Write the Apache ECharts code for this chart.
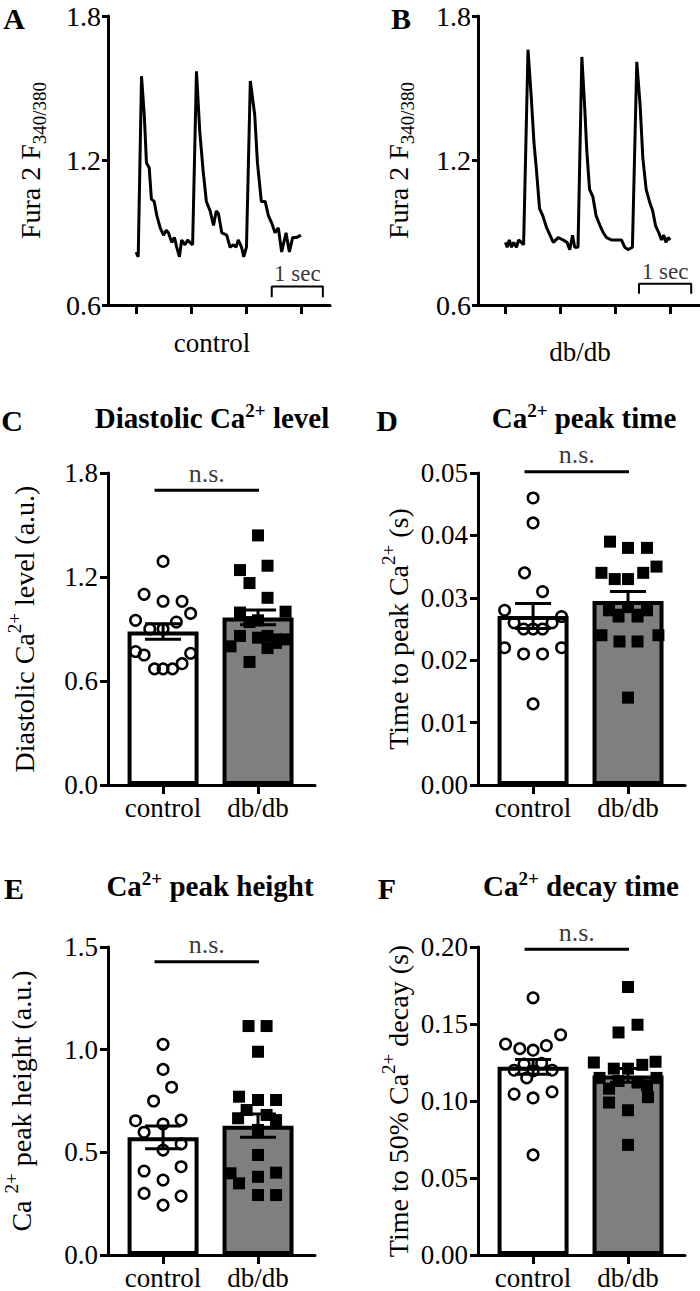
<!DOCTYPE html>
<html>
<head>
<meta charset="utf-8">
<script src="https://cdn.jsdelivr.net/npm/echarts@6/dist/echarts.min.js"></script>
<style>
  html, body { margin: 0; padding: 0; background: #fff; }
  #chart { width: 700px; height: 1291px; }
</style>
</head>
<body>
<div id="chart"></div>
<script>
// ---- data ----
var categories = ['control', 'db/db'];
var traceTicks = [0, 1, 2, 3];

// [time (s), Fura-2 ratio]
var traceControl = [
  [0.00, 0.82], [0.04, 0.80], [0.10, 1.55], [0.15, 1.39], [0.19, 1.19], [0.24, 1.17],
  [0.28, 1.04], [0.33, 1.03], [0.38, 0.97], [0.44, 0.92], [0.50, 0.89], [0.55, 0.91],
  [0.59, 0.90], [0.65, 0.86], [0.70, 0.88], [0.74, 0.84], [0.79, 0.80], [0.83, 0.87],
  [0.89, 0.85], [0.94, 0.87], [0.98, 0.86], [1.03, 0.85], [1.10, 1.57], [1.16, 1.32],
  [1.22, 1.16], [1.28, 1.03], [1.35, 0.99], [1.41, 0.93], [1.46, 0.99], [1.50, 0.98],
  [1.56, 0.90], [1.65, 0.89], [1.71, 0.84], [1.77, 0.85], [1.82, 0.84], [1.86, 0.87],
  [1.92, 0.84], [1.96, 0.80], [2.01, 0.84], [2.08, 1.53], [2.16, 1.39], [2.21, 1.19],
  [2.28, 1.03], [2.35, 1.03], [2.41, 0.97], [2.47, 0.94], [2.53, 0.90], [2.59, 0.92],
  [2.65, 0.82], [2.73, 0.90], [2.79, 0.82], [2.85, 0.88], [2.92, 0.88], [3.00, 0.89]
];
var traceDbdb = [
  [0.00, 0.86], [0.03, 0.84], [0.07, 0.87], [0.11, 0.84], [0.15, 0.86], [0.20, 0.84],
  [0.24, 0.87], [0.29, 0.86], [0.33, 0.85], [0.41, 1.66], [0.47, 1.46], [0.52, 1.27],
  [0.56, 1.17], [0.62, 1.00], [0.68, 0.97], [0.75, 0.92], [0.81, 0.89], [0.87, 0.86],
  [0.96, 0.88], [1.05, 0.87], [1.12, 0.86], [1.17, 0.83], [1.22, 0.89], [1.26, 0.84],
  [1.32, 0.84], [1.39, 1.63], [1.44, 1.43], [1.48, 1.24], [1.53, 1.08], [1.59, 1.05],
  [1.65, 0.97], [1.72, 0.93], [1.78, 0.90], [1.84, 0.88], [1.93, 0.87], [2.02, 0.87],
  [2.11, 0.87], [2.17, 0.84], [2.23, 0.83], [2.31, 0.84], [2.39, 1.61], [2.45, 1.43],
  [2.50, 1.21], [2.56, 1.08], [2.62, 1.03], [2.68, 0.99], [2.73, 0.93], [2.79, 0.90],
  [2.84, 0.87], [2.88, 0.89], [2.92, 0.86], [2.96, 0.88], [3.00, 0.87]
];
// 1 sec scale bars [time, ratio]
var scaleBarA = [[2.47, 0.632], [2.47, 0.677], [3.40, 0.677], [3.40, 0.632]];
var scaleBarB = [[2.43, 0.647], [2.43, 0.688], [3.38, 0.688], [3.38, 0.647]];

// individual cells: [horizontal jitter within the bar, value]
var diastolicCtrl = [[0, 1.29], [-0.20, 1.10], [0, 1.06], [0.20, 1.06], [0.29, 0.99], [-0.29, 0.95],
  [-0.14, 0.90], [0.14, 0.94], [0, 0.90], [-0.29, 0.77], [-0.20, 0.75], [0.29, 0.76],
  [0.20, 0.70], [-0.09, 0.67], [0, 0.67], [0.10, 0.67]];
var diastolicDb = [[0, 1.44], [-0.19, 1.24], [0.10, 1.265], [-0.09, 1.165], [0.10, 1.08], [-0.19, 0.995],
  [0.29, 1.00], [0, 0.95], [-0.09, 0.94], [-0.19, 0.86], [0, 0.85], [0.10, 0.86], [0.19, 0.84],
  [0.29, 0.84], [-0.29, 0.80], [0.10, 0.79], [-0.09, 0.71], [0.19, 0.82]];
var peakTimeCtrl = [[0, 0.046], [0, 0.042], [-0.09, 0.034], [0.10, 0.031], [-0.30, 0.028], [0.30, 0.027],
  [-0.20, 0.026], [-0.10, 0.025], [0, 0.025], [0.10, 0.025], [0.20, 0.026], [-0.30, 0.022],
  [0.30, 0.022], [-0.10, 0.021], [0.10, 0.021], [0, 0.013]];
var peakTimeDb = [[-0.19, 0.039], [0, 0.038], [0.20, 0.038], [0.30, 0.035], [-0.28, 0.034], [-0.14, 0.033],
  [0, 0.033], [0.16, 0.034], [-0.20, 0.028], [0, 0.0285], [0.20, 0.028], [-0.10, 0.027], [0.10, 0.027],
  [-0.28, 0.024], [-0.09, 0.023], [0.10, 0.023], [0.32, 0.024], [0, 0.014]];
var peakHeightCtrl = [[0, 1.026], [0, 0.904], [0.09, 0.817], [-0.10, 0.75], [-0.29, 0.654], [0, 0.638],
  [0.19, 0.657], [-0.20, 0.598], [0.19, 0.541], [0, 0.511], [-0.20, 0.409], [0.19, 0.43],
  [0, 0.365], [-0.20, 0.30], [0.19, 0.287], [0, 0.243]];
var peakHeightDb = [[-0.10, 1.115], [0.09, 1.115], [0, 0.99], [-0.20, 0.771], [0, 0.755], [0.19, 0.755],
  [-0.12, 0.706], [0.09, 0.682], [-0.21, 0.666], [0.19, 0.657], [0, 0.609], [0, 0.487],
  [-0.29, 0.398], [-0.20, 0.349], [0, 0.381], [0.19, 0.401], [0, 0.292], [0.19, 0.292]];
var decayCtrl = [[0, 0.167], [-0.29, 0.137], [-0.14, 0.134], [0, 0.133], [0.14, 0.136], [0.29, 0.143],
  [-0.095, 0.124], [0.09, 0.1245], [-0.20, 0.120], [0, 0.1195], [0.20, 0.120], [-0.067, 0.115],
  [-0.20, 0.1045], [0, 0.102], [0.20, 0.106], [0, 0.065]];
var decayDb = [[0, 0.174], [0.10, 0.1495], [-0.10, 0.1445], [-0.36, 0.125], [0.29, 0.1255], [-0.15, 0.121],
  [0, 0.121], [0.15, 0.1235], [-0.30, 0.115], [-0.10, 0.113], [0.10, 0.112], [0.30, 0.115],
  [0.20, 0.110], [-0.20, 0.108], [0.21, 0.1025], [-0.20, 0.099], [0, 0.094], [0, 0.0715]];

// bar means and SEM: [control, db/db]
var diastolicMean = [0.886, 0.967], diastolicSem = [0.045, 0.043];
var peakTimeMean = [0.0271, 0.0295], peakTimeSem = [0.0020, 0.0015];
var peakHeightMean = [0.573, 0.630], peakHeightSem = [0.055, 0.057];
var decayMean = [0.1222, 0.1166], decaySem = [0.0048, 0.0045];

// n.s. bracket heights
var nsLevel = [1.70, 0.0502, 1.428, 0.1985];

// ---- chart ----
var FONT = 'Liberation Serif';
var chart = echarts.init(document.getElementById('chart'), null, { renderer: 'svg' });

var lineAxis = { show: true, onZero: false, lineStyle: { color: '#000', width: 3 } };
var supRich = {
  sup: { fontSize: 19, fontFamily: FONT, color: '#000', verticalAlign: 'top', lineHeight: 22 },
  sub: { fontSize: 19, fontFamily: FONT, color: '#000', verticalAlign: 'bottom', lineHeight: 19 }
};

var grids = [
  { left: 108, top: 16, width: 222, height: 289 },
  { left: 478, top: 16, width: 222, height: 289 },
  { left: 108, top: 473, width: 207, height: 312 },
  { left: 478, top: 473, width: 207, height: 312 },
  { left: 108, top: 947, width: 207, height: 308 },
  { left: 478, top: 947, width: 207, height: 308 }
];
grids.forEach(function (g) { g.outerBoundsMode = 'none'; });

var xAxes = [], yAxes = [], series = [];

function yAxisDef(gi, min, max, step, digits, name, gap) {
  return {
    gridIndex: gi, type: 'value', min: min, max: max, interval: step,
    axisLine: lineAxis,
    axisTick: { show: true, length: 8, lineStyle: { color: '#000', width: 3 } },
    axisLabel: { fontSize: 27, fontFamily: FONT, color: '#000', margin: 10, lineHeight: 18,
      formatter: function (v) { return v.toFixed(digits); } },
    splitLine: { show: false },
    name: name, nameLocation: 'middle', nameGap: gap, nameMoveOverlap: false,
    nameTextStyle: { fontSize: 28, fontFamily: FONT, color: '#000', lineHeight: 38, rich: supRich }
  };
}

// trace panels A, B
[[traceControl, scaleBarA, 'control', 59, [0, 14, 0, 0], -0.51, 3.53],
 [traceDbdb, scaleBarB, 'db/db', 61, [0, 18, 0, 0], -0.50, 3.54]].forEach(function (p, gi) {
  xAxes.push({
    gridIndex: gi, type: 'value', min: p[5], max: p[6],
    axisLine: lineAxis,
    axisTick: { show: true, customValues: traceTicks, length: 9, lineStyle: { color: '#000', width: 3 } },
    axisLabel: { show: false }, splitLine: { show: false },
    name: p[2], nameLocation: 'middle', nameGap: gi === 0 ? 24 : 33,
    nameTextStyle: { fontSize: 27, fontFamily: FONT, color: '#000', padding: p[4] }
  });
  var ya = yAxisDef(gi, 0.6, 1.8, 0.6, 1, 'Fura 2 F{sub|340/380}', p[3]);
  ya.axisTick.length = 6;
  ya.axisLabel.fontSize = 28;
  ya.axisLabel.margin = 7;
  yAxes.push(ya);
  series.push({
    type: 'line', xAxisIndex: gi, yAxisIndex: gi, data: p[0], symbol: 'none',
    lineStyle: { color: '#000', width: 3 }, silent: true
  });
  series.push({
    type: 'line', xAxisIndex: gi, yAxisIndex: gi, data: p[1], symbol: 'none',
    lineStyle: { color: '#000', width: 2 }, silent: true
  });
  series.push({
    type: 'scatter', xAxisIndex: gi, yAxisIndex: gi, symbolSize: 0,
    data: [[(p[1][0][0] + p[1][2][0]) / 2, p[1][1][1]]],
    label: { show: true, position: 'top', distance: 1, formatter: '1 sec',
      fontSize: 23, fontFamily: FONT, color: '#000' },
    silent: true
  });
});

function errorBars(params, api) {
  var x = api.value(0), m = api.value(1), s = api.value(2);
  var hi = api.coord([x, m + s]), lo = api.coord([x, m - s]);
  var half = 18;
  var st = { stroke: '#000', lineWidth: 3 };
  return { type: 'group', children: [
    { type: 'line', shape: { x1: hi[0], y1: hi[1], x2: lo[0], y2: lo[1] }, style: st },
    { type: 'line', shape: { x1: hi[0] - half, y1: hi[1], x2: hi[0] + half, y2: hi[1] }, style: st },
    { type: 'line', shape: { x1: lo[0] - half, y1: lo[1], x2: lo[0] + half, y2: lo[1] }, style: st }
  ] };
}

// bar panels C-F
var barPanels = [
  [diastolicCtrl, diastolicDb, diastolicMean, diastolicSem, 0, 1.8, 0.6, 1, 'Diastolic Ca{sup|2+} level (a.u.)', 65],
  [peakTimeCtrl, peakTimeDb, peakTimeMean, peakTimeSem, 0, 0.05, 0.01, 2, 'Time to peak Ca{sup|2+} (s)', 61],
  [peakHeightCtrl, peakHeightDb, peakHeightMean, peakHeightSem, 0, 1.5, 0.5, 1, 'Ca {sup|2+} peak height (a.u.)', 68],
  [decayCtrl, decayDb, decayMean, decaySem, 0, 0.2, 0.05, 2, 'Time to 50% Ca{sup|2+} decay (s)', 61]
];
barPanels.forEach(function (p, k) {
  var gi = k + 2;
  xAxes.push({
    gridIndex: gi, type: 'value', min: -0.58, max: 1.6,
    axisLine: lineAxis,
    axisTick: { show: true, customValues: [0, 1], length: 9, lineStyle: { color: '#000', width: 3 } },
    axisLabel: { customValues: [0, 1], fontSize: 27, fontFamily: FONT, color: '#000', margin: 9,
      formatter: function (v) { return categories[Math.round(v)]; } },
    splitLine: { show: false }
  });
  yAxes.push(yAxisDef(gi, p[4], p[5], p[6], p[7], p[8], p[9]));
  series.push({
    type: 'bar', xAxisIndex: gi, yAxisIndex: gi, barWidth: 71, silent: true,
    data: [
      { value: [0, p[2][0]], itemStyle: { color: '#fff' } },
      { value: [1, p[2][1]], itemStyle: { color: '#7f7f7f' } }
    ],
    itemStyle: { borderColor: '#000', borderWidth: 4 }
  });
  series.push({
    type: 'scatter', xAxisIndex: gi, yAxisIndex: gi, symbol: 'circle', symbolSize: 10.5, silent: true,
    data: p[0].map(function (d) { return [d[0], d[1]]; }),
    itemStyle: { color: 'rgba(0,0,0,0)', borderColor: '#000', borderWidth: 2.5, opacity: 1 }
  });
  series.push({
    type: 'scatter', xAxisIndex: gi, yAxisIndex: gi, symbol: 'rect', symbolSize: 12, silent: true,
    data: p[1].map(function (d) { return [1 + d[0], d[1]]; }),
    itemStyle: { color: '#000', opacity: 1 }
  });
  series.push({
    type: 'custom', xAxisIndex: gi, yAxisIndex: gi, renderItem: errorBars, silent: true, z: 5,
    encode: { x: 0, y: 1 },
    data: [[0, p[2][0], p[3][0]], [1, p[2][1], p[3][1]]]
  });
  series.push({
    type: 'line', xAxisIndex: gi, yAxisIndex: gi, symbol: 'none', clip: false, silent: true,
    data: [[-0.09, nsLevel[k]], [1.01, nsLevel[k]]],
    lineStyle: { color: '#000', width: 3 }
  });
  series.push({
    type: 'scatter', xAxisIndex: gi, yAxisIndex: gi, symbolSize: 0, clip: false, silent: true,
    data: [[0.46, nsLevel[k]]],
    label: { show: true, position: 'top', distance: 4, formatter: 'n.s.',
      fontSize: 26, fontFamily: FONT, color: '#000' }
  });
});

// panel letters and titles
var titleRich = { sup: { fontSize: 19, fontFamily: FONT, fontWeight: 'bold', verticalAlign: 'top', lineHeight: 20, fill: '#000' } };
function label(x, y, text, size, lh) {
  return { type: 'text', x: x, y: y, silent: true,
    style: { text: text, font: 'bold ' + size + 'px "' + FONT + '"', fill: '#000', lineHeight: lh || 24,
      textAlign: 'center', textVerticalAlign: 'middle', rich: titleRich } };
}
var graphics = [
  label(14, 18, 'A', 30), label(401, 18, 'B', 30),
  label(12, 420, 'C', 30), label(387, 420, 'D', 30),
  label(14, 888, 'E', 30), label(387, 888, 'F', 30),
  label(212, 418, 'Diastolic Ca{sup|2+} level', 29, 34),
  label(584, 418, 'Ca{sup|2+} peak time', 29, 34),
  label(210, 886, 'Ca{sup|2+} peak height', 29, 34),
  label(581, 886, 'Ca{sup|2+} decay time', 29, 34)
];

chart.setOption({
  animation: false,
  backgroundColor: '#fff',
  textStyle: { fontFamily: FONT, color: '#000' },
  grid: grids,
  xAxis: xAxes,
  yAxis: yAxes,
  series: series,
  graphic: graphics
});
</script>
</body>
</html>
